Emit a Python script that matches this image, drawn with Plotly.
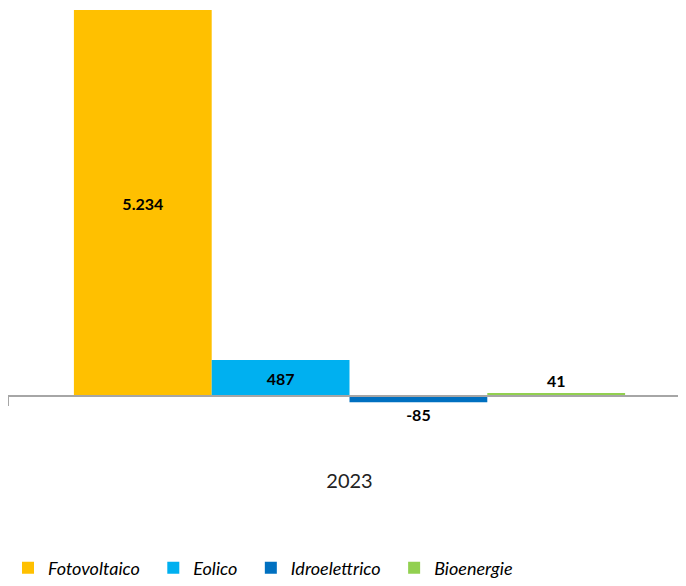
import plotly.graph_objects as go

# dati (MW, variazione 2023)
years = ["2023"]
sources = ["Fotovoltaico", "Eolico", "Idroelettrico", "Bioenergie"]
values = [5234, 487, -85, 41]
label_pos = ["inside", "inside", "outside", "outside"]

SOURCE_COLORS = {
    "Fotovoltaico": "#FFC000",   # giallo
    "Eolico": "#00B0F0",         # azzurro
    "Idroelettrico": "#0070C0",  # blu
    "Bioenergie": "#92D050",     # verde
}

Y_RANGE = [-298, 5261]
FONT = "Lato, sans-serif"
LEGEND_PAD = "\u00a0" * 2   # spazio extra tra le voci della legenda

fig = go.Figure()

for name, val, pos in zip(sources, values, label_pos):
    fig.add_trace(
        go.Bar(
            x=years,
            y=[val],
            name=name + LEGEND_PAD,
            marker=dict(color=SOURCE_COLORS[name], line=dict(width=0)),
            texttemplate="<b>%{y:,.0f}</b>",
            textposition=pos,
            insidetextanchor="middle",
            textfont=dict(family=FONT, size=16, color="black"),
            cliponaxis=False,
            hoverinfo="skip",
        )
    )

# asse x sullo zero
zero_pos = (0 - Y_RANGE[0]) / (Y_RANGE[1] - Y_RANGE[0])

fig.update_xaxes(
    anchor="free",
    position=zero_pos,
    automargin=False,
    showline=True,
    linecolor="#A6A6A6",
    linewidth=1.5,
    ticks="outside",
    tickson="boundaries",
    ticklen=9,
    tickcolor="#A6A6A6",
    tickwidth=1.5,
    ticklabelstandoff=67,
    tickfont=dict(family=FONT, size=20, color="#222222"),
    showgrid=False,
)
fig.update_yaxes(
    range=Y_RANGE,
    visible=False,
    showgrid=False,
    zeroline=False,
)

fig.update_layout(
    width=686,
    height=586,
    barmode="group",
    bargap=0.193,
    bargroupgap=0,
    separators=",.",
    margin=dict(l=0, r=3, t=0, b=176, autoexpand=False),
    paper_bgcolor="white",
    plot_bgcolor="white",
    font=dict(family=FONT),
    legend=dict(
        orientation="h",
        xref="container",
        yref="container",
        x=-0.0095,
        xanchor="left",
        y=0.0444,
        yanchor="middle",
        font=dict(family=FONT, size=18, color="black", style="italic"),
        itemsizing="constant",
    ),
)

fig.write_html("out.html")
